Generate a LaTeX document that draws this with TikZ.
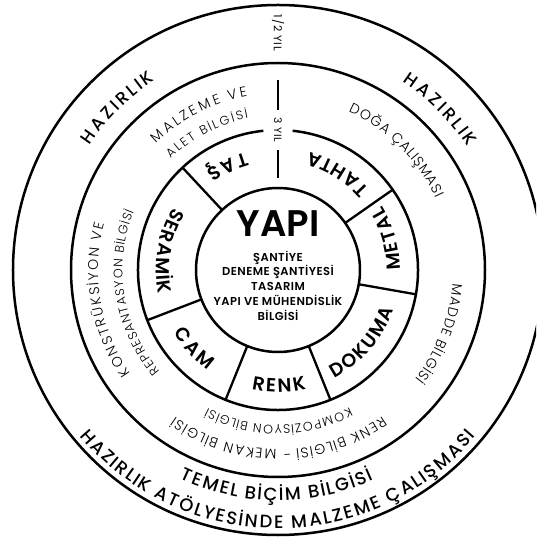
\documentclass[tikz,border=0pt]{standalone}
\usepackage{fontspec}
\setmainfont{Poppins}
\newfontfamily\pmed{Poppins Medium}
\newfontfamily\psemi{Poppins SemiBold}
\newfontfamily\plight{Poppins Light}
\usetikzlibrary{decorations.text}
\newcommand\fCell{\psemi\fontsize{19}{21}\selectfont}
\newcommand\fHaz{\pmed\fontsize{17.5}{19}\selectfont}
\newcommand\fOut{\pmed\fontsize{18}{20}\selectfont}
\newcommand\fMid{\plight\fontsize{14}{16}\selectfont}
\newcommand\fMidS{\plight\fontsize{12.5}{14}\selectfont}
% text spread along an arc from angle #2 to angle #3 at baseline radius #4
\newcommand{\arctext}[5]{%
  \path[decorate,decoration={text effects along path,text={#5},
      text effects/.cd,text along path,fit text to path,
      characters={inner sep=0pt,anchor=base,font=#1}}]
    (#2:#4pt) arc[start angle=#2, end angle=#3, radius=#4pt];}
\begin{document}
\begin{tikzpicture}[x=1pt,y=1pt,
  ring/.style={line width=2.5pt},
  divider/.style={line width=2.3pt},
  year/.style={rotate=-90,inner sep=0pt}]
\useasboundingbox (-278,-270) rectangle (258,270);
\clip (-278,-270) rectangle (258,270);
% circles
\draw[ring] (0,0) circle[radius=265pt];
\draw[ring] (0,0) circle[radius=207pt];
\draw[ring] (96:140pt) arc[start angle=96, end angle=444, radius=140pt];
\draw[ring] (0,0) circle[radius=82pt];
% dividers of the inner ring
\foreach \a in {133,35,-10,-68,-112,201}
  \draw[divider] (\a:82pt) -- (\a:140pt);
\coordinate (d1a) at (0,92); \coordinate (d1b) at (0,120);
\coordinate (d2a) at (0,160); \coordinate (d2b) at (0,190);
\draw[divider] (d1a) -- (d1b);
\draw[divider] (d2a) -- (d2b);
% year labels
\node[year,font=\fontsize{11}{13}\selectfont\addfontfeatures{LetterSpace=8}] (half) at (0,237) {1/2 YIL};
\node[year,font=\fontsize{10.5}{12}\selectfont\addfontfeatures{LetterSpace=6}] (three) at (0,140) {3 YIL};
% centre
\node[font=\psemi\fontsize{37}{37}\selectfont,inner sep=0pt] (yapi) at (0,46) {YAPI};
\node[font=\psemi\fontsize{11.5}{14.75}\selectfont\addfontfeatures{LetterSpace=4},align=center,inner sep=0pt] (yapitxt) at (0,-15.5)
  {ŞANTİYE\\DENEME ŞANTİYESİ\\TASARIM\\YAPI VE MÜHENDİSLİK\\BİLGİSİ};
% inner ring cells (tops toward the centre)
\arctext{\fCell}{105.5}{126}{122}{TAŞ}
\arctext{\fCell}{41.5}{75}{122}{TAHTA}
\arctext{\fCell}{0}{31.5}{122}{METAL}
\arctext{\fCell}{-62.5}{-19}{122}{DOKUMA}
\arctext{\fCell}{-102.5}{-76.5}{122}{RENK}
\arctext{\fCell}{-149}{-125}{122}{CAM}
\arctext{\fCell}{149}{191.5}{122}{SERAMİK}
% middle ring (tops away from the centre)
\arctext{\fMid}{134}{100}{176}{MALZEME VE}
\arctext{\fMidS}{134}{101}{154.5}{ALET BİLGİSİ}
\arctext{\fMid}{66}{24.5}{173}{DOĞA ÇALIŞMASI}
\arctext{\fMid}{-4.5}{-38.5}{175}{MADDE BİLGİSİ}
\arctext{\fMid}{215}{165}{180}{KONSTRÜKSİYON VE}
\arctext{\fMidS}{220.5}{158}{155.5}{REPRESANTASYON BİLGİSİ}
\arctext{\fMid}{-54.5}{-125}{179.5}{RENK BİLGİSİ - MEKAN BİLGİSİ}
\arctext{\fMidS}{-62.5}{-117}{155}{KOMPOZİSYON BİLGİSİ}
% outer ring
\arctext{\fHaz}{146.5}{123}{226}{HAZIRLIK}
\arctext{\fHaz}{56.5}{33}{226}{HAZIRLIK}
\arctext{\fOut}{-115.3}{-65.5}{230.5}{TEMEL BİÇİM BİLGİSİ}
\arctext{\fOut}{-140}{-40}{258.5}{HAZIRLIK ATÖLYESİNDE MALZEME ÇALIŞMASI}
\end{tikzpicture}
\end{document}
